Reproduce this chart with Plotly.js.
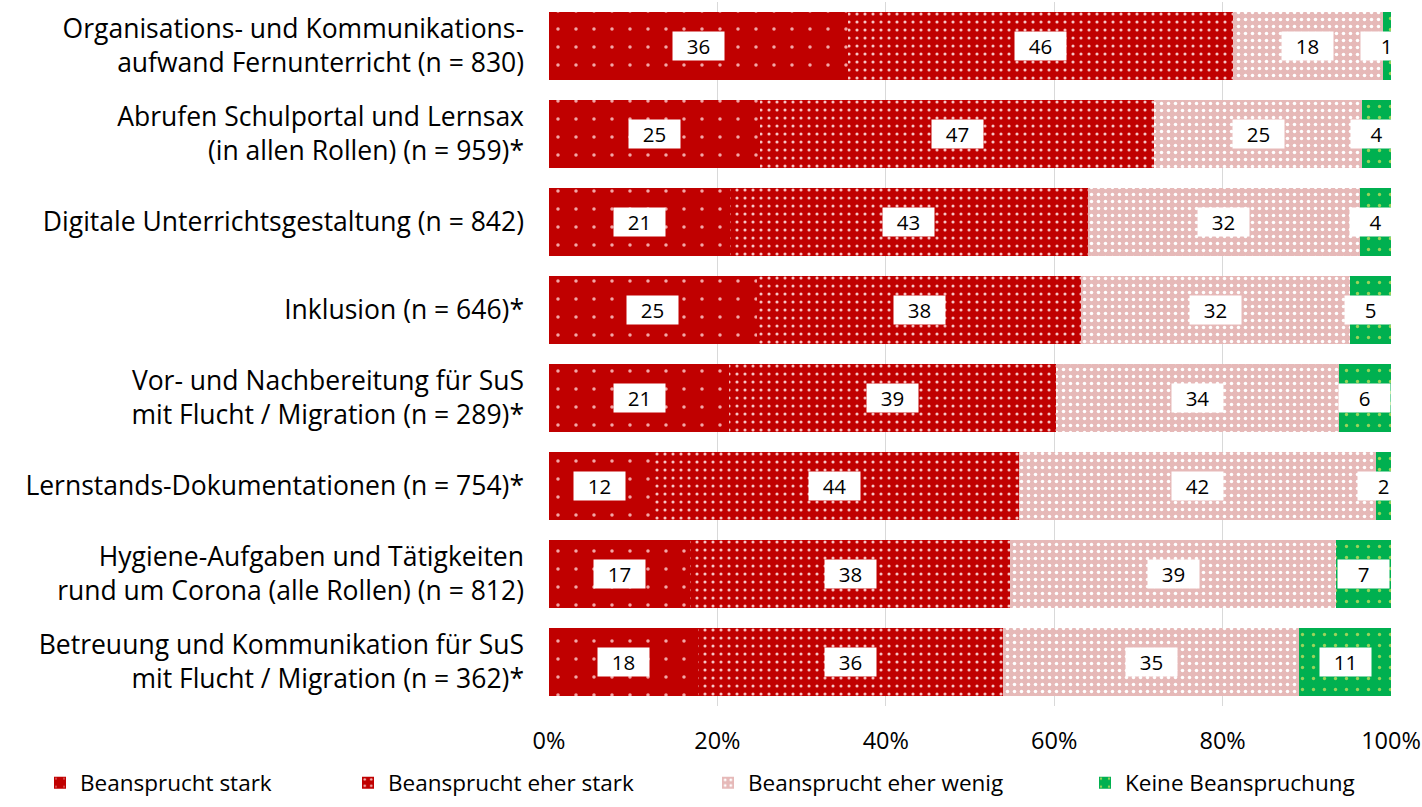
<!DOCTYPE html>
<html>
<head>
<meta charset="utf-8">
<script src="https://cdn.plot.ly/plotly-3.0.1.min.js"></script>
<style>html,body{margin:0;padding:0;background:#fff;}#chart{width:1422px;height:807px;}</style>
</head>
<body>
<div id="chart"></div>
<script>
const categories = [
  "Organisations- und Kommunikations-<br>aufwand Fernunterricht (n = 830)",
  "Abrufen Schulportal und Lernsax<br>(in allen Rollen) (n = 959)*",
  "Digitale Unterrichtsgestaltung (n = 842)",
  "Inklusion (n = 646)*",
  "Vor- und Nachbereitung für SuS<br>mit Flucht / Migration (n = 289)*",
  "Lernstands-Dokumentationen (n = 754)*",
  "Hygiene-Aufgaben und Tätigkeiten<br>rund um Corona (alle Rollen) (n = 812)",
  "Betreuung und Kommunikation für SuS<br>mit Flucht / Migration (n = 362)*"
];
const seriesNames = ["Beansprucht stark", "Beansprucht eher stark", "Beansprucht eher wenig", "Keine Beanspruchung"];
const stark     = [35.5, 25.1, 21.5, 24.7, 21.4, 12.1, 16.7, 17.7];
const eherStark = [45.7, 46.8, 42.5, 38.5, 38.8, 43.7, 38.1, 36.2];
const eherWenig = [17.8, 24.7, 32.3, 31.9, 33.6, 42.4, 38.7, 35.2];
const keine     = [1.0, 3.4, 3.7, 4.9, 6.2, 1.8, 6.5, 10.9];
const labelsStark     = [36, 25, 21, 25, 21, 12, 17, 18];
const labelsEherStark = [46, 47, 43, 38, 39, 44, 38, 36];
const labelsEherWenig = [18, 25, 32, 32, 34, 42, 39, 35];
const labelsKeine     = [1, 4, 4, 5, 6, 2, 7, 11];
const xTickVals = [0, 20, 40, 60, 80, 100];
const xTickText = ["0%", "20%", "40%", "60%", "80%", "100%"];

const FONT = "'Open Sans', 'Noto Sans', sans-serif";
const values = [stark, eherStark, eherWenig, keine];
const labels = [labelsStark, labelsEherStark, labelsEherWenig, labelsKeine];
const patterns = [
  {shape: '.', bgcolor: '#C00000', fgcolor: '#F2A6A6', size: 18, solidity: 0.03, fillmode: 'replace'},
  {shape: '.', bgcolor: '#C00000', fgcolor: '#F7C4C4', size: 8, solidity: 0.12, fillmode: 'replace'},
  {shape: '.', bgcolor: '#E6B9B8', fgcolor: '#FFFFFF', size: 7, solidity: 0.2, fillmode: 'replace'},
  {shape: '.', bgcolor: '#00B050', fgcolor: '#9BD45A', size: 11, solidity: 0.07, fillmode: 'replace'}
];
const baseColors = ['#C00000', '#C00000', '#E6B9B8', '#00B050'];
const legendX = [40, 348, 708, 1085];
const legendKeys = ['legend', 'legend2', 'legend3', 'legend4'];

const traces = values.map((v, i) => ({
  type: 'bar',
  orientation: 'h',
  name: seriesNames[i],
  y: categories,
  x: v,
  marker: {color: baseColors[i], pattern: patterns[i], line: {width: 0}},
  legend: legendKeys[i],
  hoverinfo: 'name+x'
}));

const annotations = [];
categories.forEach((c, r) => {
  let cum = 0;
  values.forEach((v, i) => {
    const mid = cum + v[r] / 2;
    cum += v[r];
    annotations.push({
      x: mid, y: c, xref: 'x', yref: 'y',
      text: String(labels[i][r]),
      showarrow: false,
      bgcolor: '#FFFFFF',
      width: 49, height: 26,
      font: {family: FONT, size: 20.5, color: '#000'}
    });
  });
});

const layout = {
  width: 1422, height: 807,
  margin: {l: 549, r: 31, t: 2, b: 101},
  paper_bgcolor: '#fff', plot_bgcolor: '#fff',
  barmode: 'stack',
  bargap: 0.23,
  font: {family: FONT, size: 22, color: '#000'},
  xaxis: {
    range: [0, 100], tickvals: xTickVals, ticktext: xTickText,
    showgrid: true, gridcolor: '#D9D9D9', gridwidth: 1,
    zeroline: false, showline: false, ticks: '',
    ticklabelstandoff: 18,
    tickfont: {family: FONT, size: 23.5, color: '#000'},
    fixedrange: true
  },
  yaxis: {
    type: 'category', autorange: 'reversed',
    showgrid: false, zeroline: false, showline: false, ticks: '',
    ticklabelstandoff: 24,
    tickfont: {family: FONT, size: 26.5, color: '#000'},
    fixedrange: true
  },
  annotations: annotations,
  showlegend: true
};
legendKeys.forEach((k, i) => {
  layout[k] = {
    xref: 'container', yref: 'container',
    x: legendX[i] / 1422, y: 24 / 807,
    xanchor: 'left', yanchor: 'middle',
    orientation: 'h', bgcolor: 'rgba(0,0,0,0)',
    font: {family: FONT, size: 22.5, color: '#000'}
  };
});

Plotly.newPlot('chart', traces, layout, {displayModeBar: false, responsive: false});
</script>
</body>
</html>
